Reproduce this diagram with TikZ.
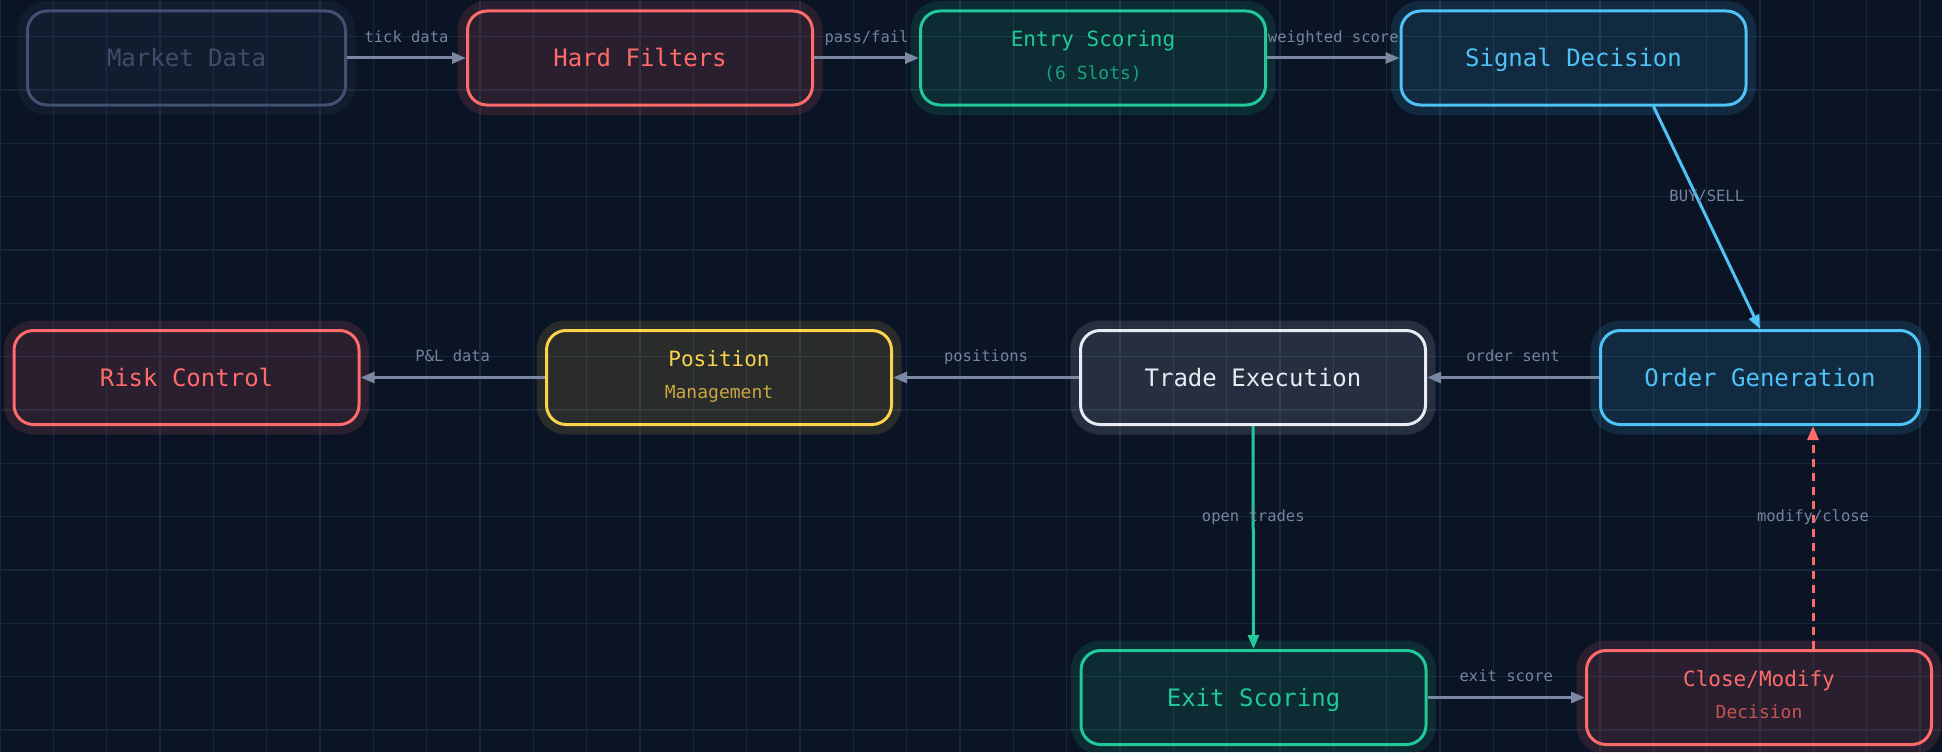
\documentclass[tikz,border=0pt]{standalone}
\usepackage{fontspec}
\newfontfamily\monofont{DejaVu Sans Mono}
\usetikzlibrary{arrows.meta,calc}
\definecolor{bg}{HTML}{0A1425}
\definecolor{gridc}{HTML}{18263B}
\definecolor{slatec}{HTML}{415273}
\definecolor{slatetext}{HTML}{3E4D6A}
\definecolor{redc}{HTML}{FF6B6B}
\definecolor{redsub}{HTML}{C95252}
\definecolor{tealc}{HTML}{20C997}
\definecolor{tealsub}{HTML}{1C9E80}
\definecolor{bluec}{HTML}{4FC3F7}
\definecolor{yellowc}{HTML}{FCD34D}
\definecolor{yellowsub}{HTML}{C9A640}
\definecolor{whitec}{HTML}{E8EBF1}
\definecolor{arrowc}{HTML}{7A88A3}
\definecolor{labelc}{HTML}{76839D}
\newcommand\glow[2]{%
  \fill[#2, fill opacity=0.13, even odd rule]
    [rounded corners=29pt] ([shift={(-8.5pt,-8.5pt)}]#1.south west) rectangle ([shift={(8.5pt,8.5pt)}]#1.north east)
    [rounded corners=21pt] (#1.south west) rectangle (#1.north east);}
\tikzset{
  box/.style={draw=#1, fill=#1, fill opacity=0.13, rounded corners=19.5pt, line width=3pt,
    minimum width=345pt, minimum height=94pt, inner sep=0pt},
  onetxt/.style={anchor=base, inner sep=0pt, text=#1, font=\monofont\fontsize{24}{28}\selectfont},
  ttltxt/.style={anchor=base, inner sep=0pt, text=#1, font=\monofont\fontsize{21}{25}\selectfont},
  subtxt/.style={anchor=base, inner sep=0pt, text=#1, font=\monofont\fontsize{18}{22}\selectfont},
  lbl/.style={anchor=base, inner sep=0pt, yshift=16pt, text=labelc, font=\monofont\fontsize{15.5}{18}\selectfont},
  arr/.style={draw=#1, line width=3pt, -{Triangle[length=14pt,width=11pt]}},
  gridline/.style={draw=gridc, line width=1.1pt}
}
\begin{document}
\begin{tikzpicture}[x=1pt, y=-1pt]
\fill[bg] (0,0) rectangle (1942,752);
\useasboundingbox (0,0) rectangle (1942,752);
\foreach \i in {0,...,36} \draw[gridline] ({\i*53.333},0) -- ({\i*53.333},752);
\foreach \j in {0,...,13} \draw[gridline] (0,{36.667+\j*53.333}) -- (1942,{36.667+\j*53.333});

% boxes
\node[box=slatec, minimum width=318pt] (md) at (186.5,58) {};
\node[box=redc] (hf) at (640,58) {};
\node[box=tealc] (es) at (1093,58) {};
\node[box=bluec] (sd) at (1573.5,58) {};
\node[box=redc] (rc) at (186.5,377.5) {};
\node[box=yellowc] (pm) at (719,377.5) {};
\node[box=whitec] (te) at (1253,377.5) {};
\node[box=bluec, minimum width=319pt] (og) at (1760,377.5) {};
\node[box=tealc] (ex) at (1253.5,697.5) {};
\node[box=redc] (cm) at (1759,697.5) {};

\glow{md}{slatec}\glow{hf}{redc}\glow{es}{tealc}\glow{sd}{bluec}
\glow{rc}{redc}\glow{pm}{yellowc}\glow{te}{whitec}\glow{og}{bluec}
\glow{ex}{tealc}\glow{cm}{redc}

% texts
\node[onetxt=slatetext] (md-t) at ($(md.center)+(0,8.75)$) {Market Data};
\node[onetxt=redc] (hf-t) at ($(hf.center)+(0,8.75)$) {Hard Filters};
\node[ttltxt=tealc] (es-t) at ($(es.center)+(0,-11)$) {Entry Scoring};
\node[subtxt=tealsub] (es-s) at ($(es.center)+(0,21)$) {(6 Slots)};
\node[onetxt=bluec] (sd-t) at ($(sd.center)+(0,8.75)$) {Signal Decision};
\node[onetxt=redc] (rc-t) at ($(rc.center)+(0,8.75)$) {Risk Control};
\node[ttltxt=yellowc] (pm-t) at ($(pm.center)+(0,-11)$) {Position};
\node[subtxt=yellowsub] (pm-s) at ($(pm.center)+(0,21)$) {Management};
\node[onetxt=whitec] (te-t) at ($(te.center)+(0,8.75)$) {Trade Execution};
\node[onetxt=bluec] (og-t) at ($(og.center)+(0,8.75)$) {Order Generation};
\node[onetxt=tealc] (ex-t) at ($(ex.center)+(0,8.75)$) {Exit Scoring};
\node[ttltxt=redc] (cm-t) at ($(cm.center)+(0,-11)$) {Close/Modify};
\node[subtxt=redsub] (cm-s) at ($(cm.center)+(0,21)$) {Decision};

% connectors
\draw[arr=arrowc] (md.east) -- node[lbl] (l1) {tick data} (hf.west);
\draw[arr=arrowc] (hf.east) -- node[lbl] (l2) {pass/fail} (es.west);
\draw[arr=arrowc] (es.east) -- node[lbl] (l3) {weighted score} (sd.west);
\draw[arr=bluec] ([xshift=80pt]sd.south) -- node[lbl] (l4) {BUY/SELL} (og.north);
\draw[arr=arrowc] (og.west) -- node[lbl] (l5) {order sent} (te.east);
\draw[arr=arrowc] (te.west) -- node[lbl] (l6) {positions} (pm.east);
\draw[arr=arrowc] (pm.west) -- node[lbl] (l7) {P\&L data} (rc.east);
\draw[arr=tealc] (te.south) -- node[lbl] (l8) {open trades} (ex.north);
\draw[arr=arrowc] (ex.east) -- node[lbl] (l9) {exit score} (cm.west);
\coordinate (mc1) at ([xshift=54pt]cm.north);
\coordinate (mc2) at (mc1 |- og.south);
\draw[arr=redc, dash pattern=on 8pt off 6pt] (mc1) -- node[lbl] (l10) {modify/close} (mc2);
\end{tikzpicture}
\end{document}
